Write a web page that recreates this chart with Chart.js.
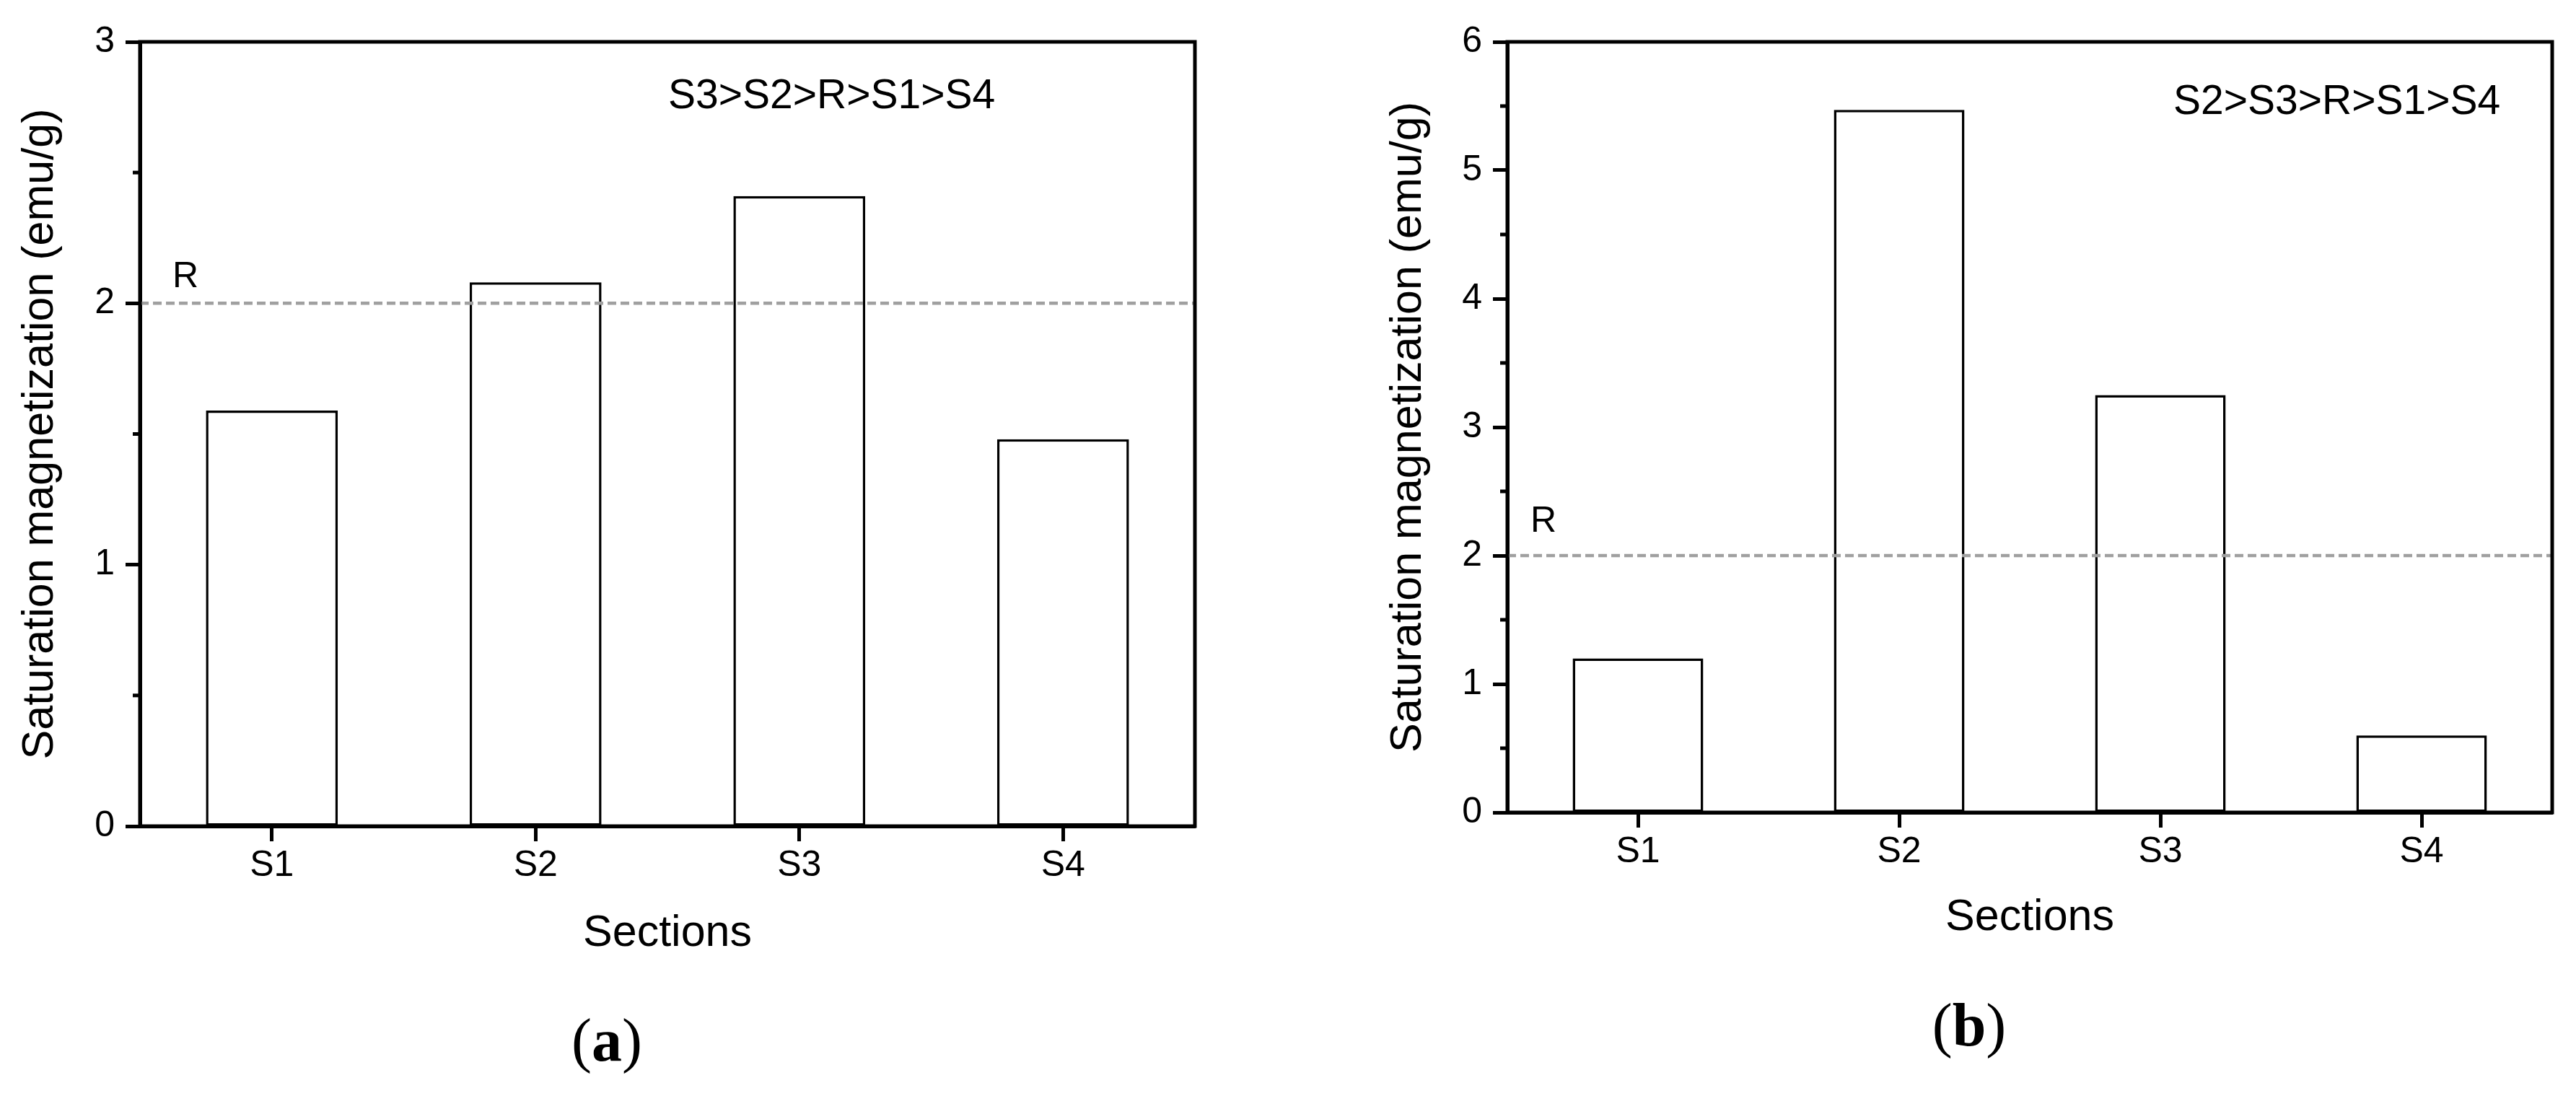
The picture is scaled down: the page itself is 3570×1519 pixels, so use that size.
<!DOCTYPE html>
<html>
<head>
<meta charset="utf-8">
<title>Saturation magnetization by section</title>
<script src="https://cdn.jsdelivr.net/npm/chart.js@4.4.0/dist/chart.umd.min.js"></script>
<style>
    html, body { margin: 0; padding: 0; background: #fff; }
    #wrap { position: relative; width: 3570px; height: 1519px; }
    canvas { position: absolute; top: 0; }
    #chartA { left: 0; }
    #chartB { left: 1785px; }
</style>
</head>
<body>
<div id="wrap">
    <canvas id="chartA" width="1785" height="1519"></canvas>
    <canvas id="chartB" width="1785" height="1519"></canvas>
</div>
<script>
// ===== DATA =====
const sections = ["S1", "S2", "S3", "S4"];

// panel (a)
const valuesA = [1.59, 2.08, 2.41, 1.48];
const refA = 2.0;
const yTicksA = [0, 1, 2, 3];
const yMinorA = [0.5, 1.5, 2.5];
const noteA = "S3>S2>R>S1>S4";

// panel (b)
const valuesB = [1.20, 5.47, 3.25, 0.60];
const refB = 2.0;
const yTicksB = [0, 1, 2, 3, 4, 5, 6];
const yMinorB = [0.5, 1.5, 2.5, 3.5, 4.5, 5.5];
const noteB = "S2>S3>R>S1>S4";

const SANS = "'Liberation Sans', Arial, sans-serif";
const SERIF = "'Liberation Serif', 'Times New Roman', serif";

Chart.defaults.font.family = SANS;
Chart.defaults.color = "#000";

// reference line, frame, minor ticks and the free texts
const panelDecor = {
    id: "panelDecor",
    afterDatasetsDraw(chart, args, o) {
        const ctx = chart.ctx, area = chart.chartArea;
        const ry = chart.scales.y.getPixelForValue(o.ref);
        ctx.save();
        ctx.strokeStyle = "#a0a0a0";
        ctx.lineWidth = 4.5;
        ctx.setLineDash([12, 6]);
        ctx.beginPath();
        ctx.moveTo(area.left, ry);
        ctx.lineTo(area.right, ry);
        ctx.stroke();
        ctx.restore();
    },
    afterDraw(chart, args, o) {
        const ctx = chart.ctx, area = chart.chartArea, y = chart.scales.y;
        ctx.save();
        ctx.strokeStyle = "#000";
        ctx.lineWidth = 5;
        ctx.strokeRect(area.left, area.top, area.right - area.left, area.bottom - area.top);

        // minor ticks (outside, shorter)
        o.minor.forEach(v => {
            const py = y.getPixelForValue(v);
            ctx.beginPath();
            ctx.moveTo(area.left - 10, py);
            ctx.lineTo(area.left, py);
            ctx.stroke();
        });

        ctx.fillStyle = "#000";
        ctx.textBaseline = "alphabetic";
        ctx.textAlign = "left";
        ctx.font = "57px " + SANS;
        ctx.fillText(o.note, o.noteX, o.noteY);

        ctx.font = "50px " + SANS;
        ctx.fillText("R", area.left + o.rDx, y.getPixelForValue(o.ref) - o.rDy);

        // caption like "(a)" with bold letter
        ctx.font = "84px " + SANS.replace(SANS, SERIF);
        const wl = ctx.measureText("(").width;
        ctx.font = "bold 84px " + SERIF;
        const wm = ctx.measureText(o.letter).width;
        ctx.font = "84px " + SERIF;
        const wr = ctx.measureText(")").width;
        let x = o.capX - (wl + wm + wr) / 2;
        ctx.fillText("(", x, o.capY);
        x += wl;
        ctx.font = "bold 84px " + SERIF;
        ctx.fillText(o.letter, x, o.capY);
        x += wm;
        ctx.font = "84px " + SERIF;
        ctx.fillText(")", x, o.capY);
        ctx.restore();
    }
};

function makePanel(id, values, yMax, ticks, minor, decor, pad, xTitlePad, yTitlePad) {
    return new Chart(document.getElementById(id), {
        type: "bar",
        data: {
            labels: sections,
            datasets: [{
                data: values,
                backgroundColor: "#fff",
                borderColor: "#000",
                borderWidth: 3.5,
                borderSkipped: false,
                barPercentage: 0.5,
                categoryPercentage: 1
            }]
        },
        options: {
            responsive: false,
            animation: false,
            layout: { padding: pad },
            plugins: {
                legend: { display: false },
                tooltip: { enabled: false },
                panelDecor: decor
            },
            scales: {
                x: {
                    afterFit: s => { s.height = 200; },
                    ticks: { font: { size: 50 }, color: "#000", padding: 4 },
                    grid: { offset: false, drawOnChartArea: false, tickLength: 21, tickWidth: 5, tickColor: "#000" },
                    border: { color: "#000", width: 5 },
                    title: { display: true, text: "Sections", color: "#000", font: { size: 61 }, padding: { top: 0, bottom: xTitlePad } }
                },
                y: {
                    min: 0,
                    max: yMax,
                    afterBuildTicks: s => { s.ticks = ticks.map(v => ({ value: v })); },
                    afterFit: s => { s.width = 194; },
                    ticks: { font: { size: 50 }, color: "#000", padding: 15, callback: v => String(v) },
                    grid: { drawOnChartArea: false, tickLength: 20, tickWidth: 5, tickColor: "#000" },
                    border: { color: "#000", width: 5 },
                    title: { display: true, text: "Saturation magnetization (emu/g)", color: "#000", font: { size: 61 }, padding: { top: yTitlePad, bottom: 0 } }
                }
            }
        },
        plugins: [panelDecor]
    });
}

makePanel("chartA", valuesA, 3, yTicksA, yMinorA,
    { ref: refA, minor: yMinorA, note: noteA, noteX: 926, noteY: 150, rDx: 45, rDy: 22, letter: "a", capX: 841, capY: 1470 },
    { left: 0, right: 129, top: 58, bottom: 174 }, 14.5, 20);

makePanel("chartB", valuesB, 6, yTicksB, yMinorB,
    { ref: refB, minor: yMinorB, note: noteB, noteX: 1227, noteY: 158, rDx: 32, rDy: 33, letter: "b", capX: 944, capY: 1449 },
    { left: 110, right: 33, top: 58, bottom: 193 }, 17.5, 21);
</script>
</body>
</html>
